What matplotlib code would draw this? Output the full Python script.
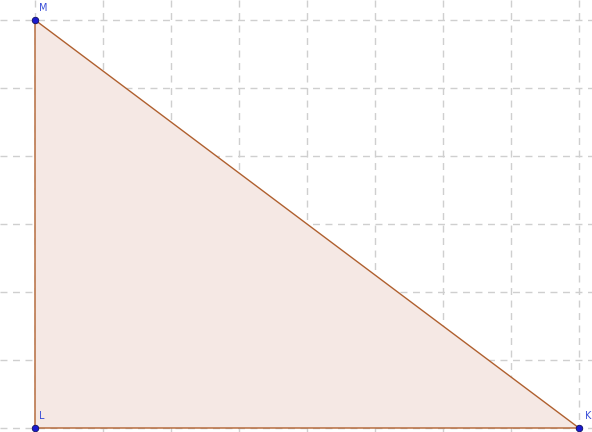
import matplotlib
matplotlib.use("Agg")
import matplotlib.pyplot as plt
import numpy as np

# Data: triangle vertices (grid units)
names = ["L", "K", "M"]
xs = [0, 8, 0]
ys = [0, 0, 6]

fig = plt.figure(figsize=(5.92, 4.32), dpi=100)
ax = fig.add_axes([0, 0, 1, 1])
ax.set_xlim(-35/68, 557/68)
ax.set_ylim(-4/68, 428/68)
ax.axis("off")

# grid
for gx in range(0, 9):
    ax.axvline(gx, color="#cfcfcf", lw=1.0, ls=(0, (5, 4)), zorder=0)
for gy in range(0, 7):
    ax.axhline(gy, color="#cfcfcf", lw=1.0, ls=(0, (5, 4)), zorder=0)

ax.fill(xs, ys, facecolor="#f5e8e4", edgecolor="none", zorder=1)
ax.plot(xs + [xs[0]], ys + [ys[0]], color="#b0602f", lw=1.0, zorder=2)
ax.scatter(xs, ys, s=22, color="#1a1ad0", edgecolor="#101060", linewidths=0.6, zorder=3)

offsets = {"L": (3, 5), "K": (4, 5), "M": (3, 5)}
for n, x, y in zip(names, xs, ys):
    ax.annotate(n, (x, y), xytext=offsets[n], textcoords="offset points",
                color="#3a4fd8", fontsize=7, ha="left", va="bottom", zorder=4)

fig.savefig("out.png", dpi=100)
